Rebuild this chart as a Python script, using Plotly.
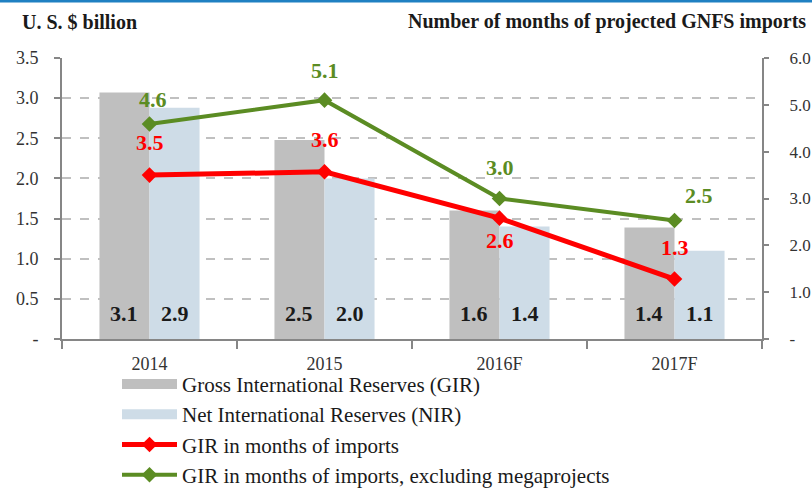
import plotly.graph_objects as go

# ---- data ----
categories = ["2014", "2015", "2016F", "2017F"]
gir_bn = [3.07, 2.48, 1.60, 1.39]
nir_bn = [2.88, 2.00, 1.40, 1.10]
gir_months = [3.50, 3.57, 2.58, 1.28]
gir_months_ex_mega = [4.59, 5.10, 3.00, 2.53]
left_ticks = [0, 0.5, 1.0, 1.5, 2.0, 2.5, 3.0, 3.5]
right_ticks = [0, 1, 2, 3, 4, 5, 6]

# ---- style ----
FONT = "Liberation Serif, Times New Roman, serif"
C_GIR = "#bfbfbf"
C_NIR = "#cedce7"
C_RED = "#ff0000"
C_GREEN = "#5b8c23"
AXIS = "#868686"
BAR_W = 0.286

xs = list(range(len(categories)))

fig = go.Figure()
fig.add_trace(go.Bar(x=xs, y=gir_bn, name="Gross International Reserves (GIR)",
                     legendgroup="gir", showlegend=False,
                     marker=dict(color=C_GIR, line=dict(width=0)),
                     width=BAR_W, offset=-BAR_W))
fig.add_trace(go.Bar(x=xs, y=nir_bn, name="Net International Reserves (NIR)",
                     legendgroup="nir", showlegend=False,
                     marker=dict(color=C_NIR, line=dict(width=0)),
                     width=BAR_W, offset=0))
# wide legend swatches for the bar series (legend entries only)
fig.add_trace(go.Scatter(x=[None], y=[None], mode="lines", legendgroup="gir",
                         name="Gross International Reserves (GIR)",
                         line=dict(color=C_GIR, width=15), hoverinfo="skip"))
fig.add_trace(go.Scatter(x=[None], y=[None], mode="lines", legendgroup="nir",
                         name="Net International Reserves (NIR)",
                         line=dict(color=C_NIR, width=15), hoverinfo="skip"))
fig.add_trace(go.Scatter(x=xs, y=gir_months, name="GIR in months of imports",
                         yaxis="y2", mode="lines+markers",
                         line=dict(color=C_RED, width=5),
                         marker=dict(symbol="diamond", size=12, color=C_RED)))
fig.add_trace(go.Scatter(x=xs, y=gir_months_ex_mega,
                         name="GIR in months of imports, excluding megaprojects",
                         yaxis="y2", mode="lines+markers",
                         line=dict(color=C_GREEN, width=4),
                         marker=dict(symbol="diamond", size=12, color=C_GREEN)))

annotations = []
# bar value labels near the bottom of each bar
for i in xs:
    annotations.append(dict(x=i - BAR_W / 2, y=0, xref="x", yref="y",
                            text=f"{gir_bn[i]:.1f}", showarrow=False,
                            yanchor="middle", yshift=26,
                            font=dict(family=FONT, size=22, color="#1a1a1a", weight="bold")))
    annotations.append(dict(x=i + BAR_W / 2, y=0, xref="x", yref="y",
                            text=f"{nir_bn[i]:.1f}", showarrow=False,
                            yanchor="middle", yshift=26,
                            font=dict(family=FONT, size=22, color="#1a1a1a", weight="bold")))

red_shift = [33, 32, -22, 32]
red_xshift = [0, 0, 0, 0]
green_shift = [25, 30, 31, 25]
green_xshift = [3, 0, 0, 24]
for i in xs:
    annotations.append(dict(x=i, y=gir_months[i], xref="x", yref="y2",
                            text=f"{gir_months[i]:.1f}", showarrow=False,
                            yanchor="middle", yshift=red_shift[i], xshift=red_xshift[i],
                            font=dict(family=FONT, size=22, color=C_RED, weight="bold")))
    annotations.append(dict(x=i, y=gir_months_ex_mega[i], xref="x", yref="y2",
                            text=f"{gir_months_ex_mega[i]:.1f}", showarrow=False,
                            yanchor="middle", yshift=green_shift[i], xshift=green_xshift[i],
                            font=dict(family=FONT, size=22, color=C_GREEN, weight="bold")))

# axis titles at the top
annotations.append(dict(x=-42 / 700, y=1 + 36 / 281, xref="paper", yref="paper",
                        text="U. S. $ billion", showarrow=False,
                        xanchor="left", yanchor="middle",
                        font=dict(family=FONT, size=20, color="#1a1a1a", weight="bold")))
annotations.append(dict(x=1 + 46 / 700, y=1 + 36 / 281, xref="paper", yref="paper",
                        text="Number of months of projected GNFS imports", showarrow=False,
                        xanchor="right", yanchor="middle",
                        font=dict(family=FONT, size=20, color="#1a1a1a", weight="bold")))

fig.update_layout(
    width=812, height=493,
    margin=dict(l=62, r=50, t=58, b=154, autoexpand=False),
    plot_bgcolor="white", paper_bgcolor="white",
    barmode="overlay",
    showlegend=True,
    legend=dict(x=(117 - 62) / 700, y=-0.088, xanchor="left", yanchor="top",
                font=dict(family=FONT, size=21, color="#1a1a1a"),
                itemwidth=55, tracegroupgap=0, bgcolor="rgba(0,0,0,0)"),
    annotations=annotations,
    xaxis=dict(range=[-0.5, 3.5], tickmode="array", tickvals=xs, ticktext=categories,
               ticks="", showline=True, linecolor=AXIS, linewidth=2,
               showgrid=False, zeroline=False, ticklabelstandoff=7,
               minor=dict(tickmode="linear", tick0=0.5, dtick=1, ticks="outside",
                          ticklen=8, tickwidth=2, tickcolor=AXIS),
               tickfont=dict(family=FONT, size=18, color="#333333")),
    yaxis=dict(range=[0, 3.5], tickmode="array", tickvals=left_ticks,
               ticktext=["-"] + [f"{v:.1f}" for v in left_ticks[1:]],
               ticks="outside", ticklen=6, tickwidth=2, tickcolor=AXIS,
               ticklabelstandoff=12,
               showline=True, linecolor=AXIS, linewidth=2,
               showgrid=True, gridcolor="#c0c0c0", gridwidth=2, griddash="dash",
               zeroline=False,
               tickfont=dict(family=FONT, size=18, color="#333333")),
    yaxis2=dict(range=[0, 6], overlaying="y", side="right", tickmode="array",
                tickvals=right_ticks,
                ticktext=["-"] + [f"{v:.1f}" for v in right_ticks[1:]],
                ticks="outside", ticklen=5, tickwidth=2, tickcolor=AXIS,
                ticklabelstandoff=17,
                showline=True, linecolor=AXIS, linewidth=2,
                showgrid=False, zeroline=False,
                tickfont=dict(family=FONT, size=17, color="#333333")),
    shapes=[dict(type="line", xref="paper", yref="paper",
                 x0=-62 / 700, x1=1 + 50 / 700, y0=1 + 57 / 281, y1=1 + 57 / 281,
                 line=dict(color="#1f80c2", width=3))],
)

fig.write_html("out.html", config={"displayModeBar": False},
               post_script="document.body.style.margin='0';")
